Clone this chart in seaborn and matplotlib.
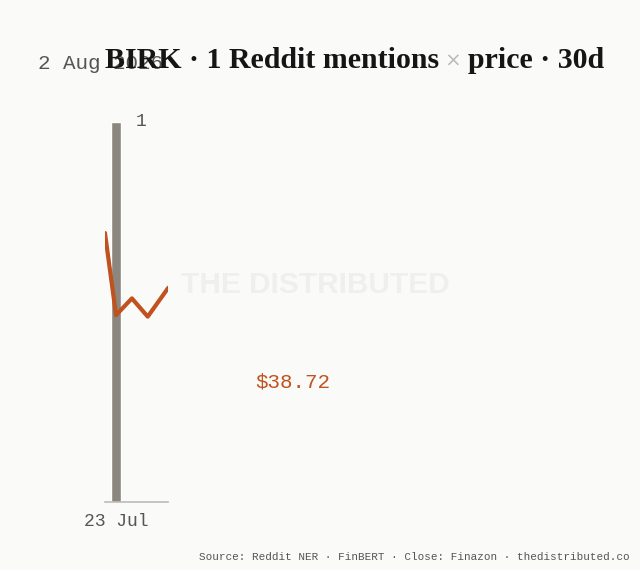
import matplotlib
matplotlib.use("Agg")
import matplotlib.pyplot as plt
import seaborn as sns
import numpy as np
import pandas as pd

# data
mention_days = ["23 Jul"]
mention_counts = [1]
price_days = [-0.7, 0.0, 1.0, 2.0, 3.3]     # days relative to 23 Jul
price_close = [39.44, 38.36, 38.58, 38.34, 38.72]
last_price_label = "$38.72"
date_label = "2 Aug 2026"

BG = "#FAFAF8"
BAR = "#8B877E"
ORANGE = "#BF521E"
GREY_TXT = "#555555"
MONO = "Liberation Mono"

sns.set_theme(style="white")
plt.rcParams["font.family"] = ["DejaVu Sans"]

fig = plt.figure(figsize=(6.4, 5.7), dpi=100, facecolor=BG)
ax = fig.add_axes([0.164, 0.119, 0.099, 0.667])
ax.set_facecolor("none")

df = pd.DataFrame({"day": [0.0], "count": mention_counts})
ax.bar(df["day"], df["count"], width=0.65, color=BAR, zorder=2)
ax.set_xlim(-0.7, 3.3)
ax.set_ylim(0, 1)
ax.text(df["day"][0] + 1.55, mention_counts[0], str(mention_counts[0]),
        ha="center", va="center", fontsize=13, color=GREY_TXT, family=MONO)

ax.set_xticks([0.0])
ax.set_xticklabels(mention_days, fontsize=13, color=GREY_TXT, family=MONO)
ax.tick_params(axis="x", length=0, pad=8)
ax.set_yticks([])
for s in ["top", "left", "right"]:
    ax.spines[s].set_visible(False)
ax.spines["bottom"].set_color("#BBBBBB")
ax.spines["bottom"].set_linewidth(1.2)

ax2 = ax.twinx()
pdf = pd.DataFrame({"day": price_days, "close": price_close})
sns.lineplot(data=pdf, x="day", y="close", ax=ax2, color=ORANGE, linewidth=3, zorder=3)
ax2.set_ylim(35.90, 40.90)
ax2.set_xlim(-0.7, 3.3)
ax2.set_axis_off()

# watermark
fig.text(0.492, 0.5, "THE DISTRIBUTED", fontsize=21.5, fontweight="bold",
         color="#EFEFED", family="Liberation Sans", ha="center", va="center", zorder=0)

fig.text(0.458, 0.330, last_price_label, fontsize=15, color=ORANGE, family=MONO,
         ha="center", va="center")

# date header and title
fig.text(0.059, 0.888, date_label, fontsize=15, color=GREY_TXT, family=MONO,
         ha="left", va="center")
t1 = fig.text(0.164, 0.893, "BIRK · 1 Reddit mentions", fontsize=21.5, fontweight="bold",
              color="#151515", family="Liberation Serif", ha="left", va="center")
t2 = fig.text(0, 0, " × ", fontsize=14, color="#BBBBBB", family="DejaVu Sans",
              ha="left", va="center")
t3 = fig.text(0, 0, "price · 30d", fontsize=21.5, fontweight="bold",
              color="#151515", family="Liberation Serif", ha="left", va="center")
fig.canvas.draw()
r = fig.canvas.get_renderer()
bb = t1.get_window_extent(r).transformed(fig.transFigure.inverted())
t2.set_position((bb.x1, 0.893))
bb2 = t2.get_window_extent(r).transformed(fig.transFigure.inverted())
t3.set_position((bb2.x1, 0.893))

fig.text(0.984, 0.023, "Source: Reddit NER · FinBERT · Close: Finazon · thedistributed.co",
         fontsize=7.9, color=GREY_TXT, family=MONO, ha="right", va="center")

fig.savefig("out.png", dpi=100, facecolor=BG)
